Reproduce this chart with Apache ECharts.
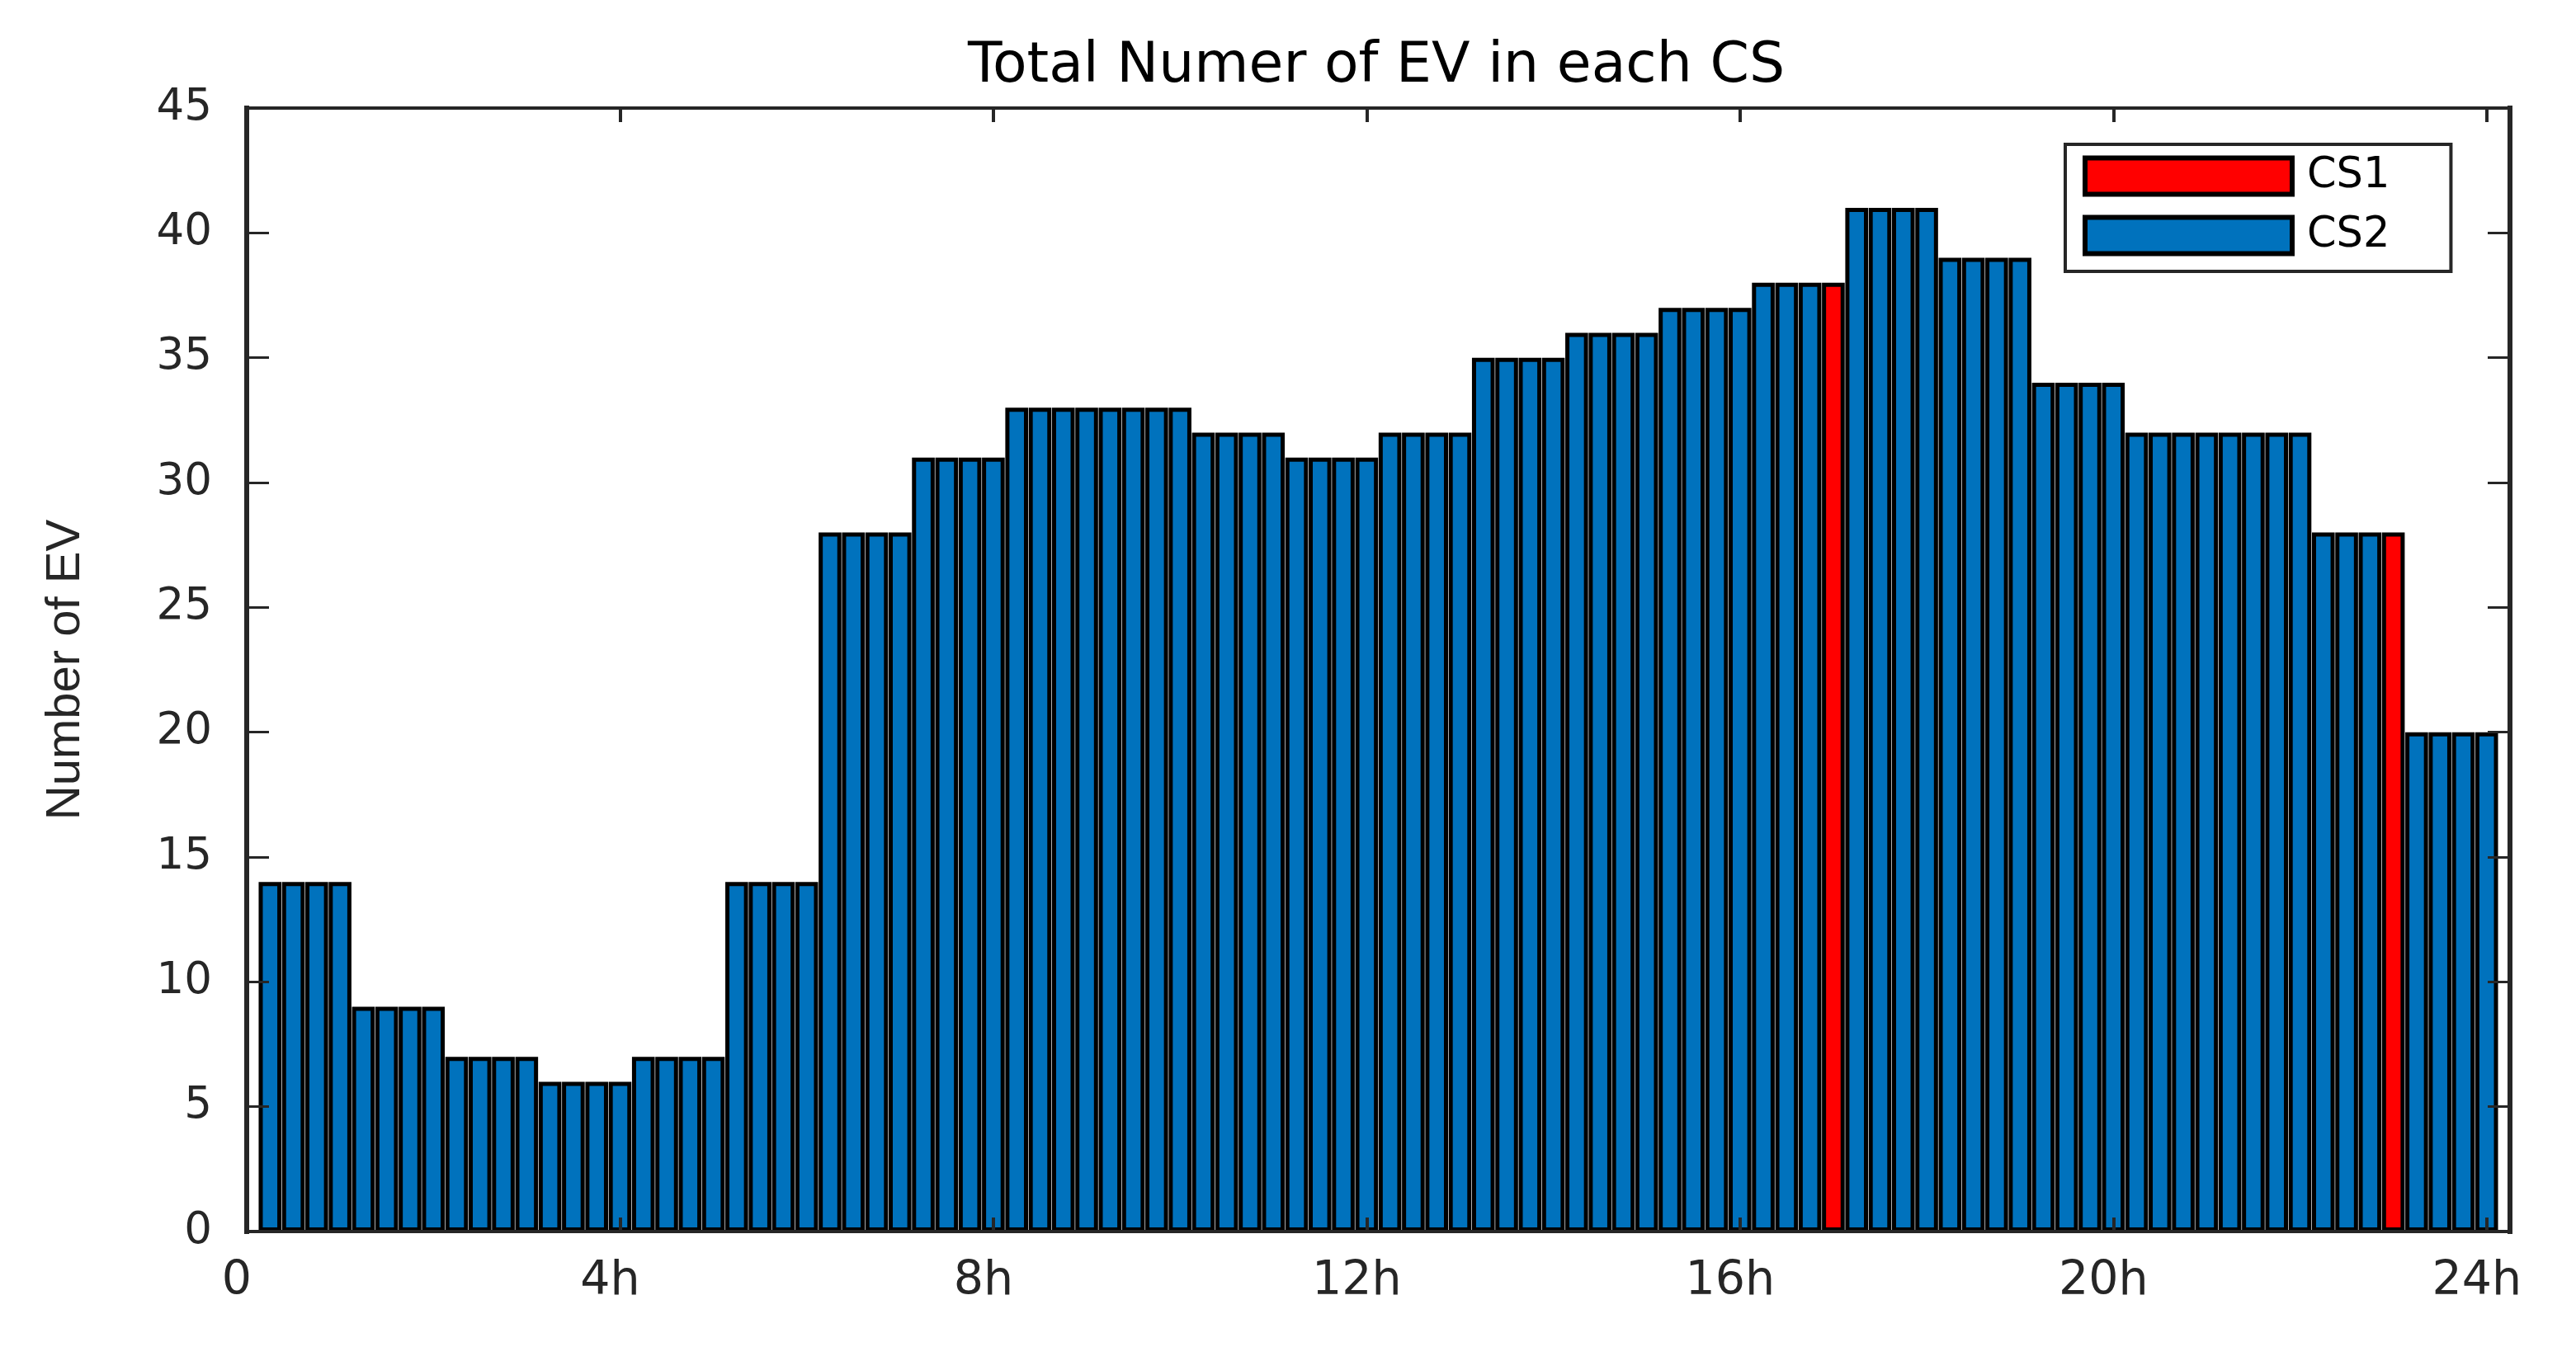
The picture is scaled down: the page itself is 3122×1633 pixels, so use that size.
<!DOCTYPE html>
<html>
<head>
<meta charset="utf-8">
<script src="https://cdn.jsdelivr.net/npm/echarts@6/dist/echarts.min.js"></script>
<style>
html,body{margin:0;padding:0;background:#fff;}
#chart{width:3122px;height:1633px;}
</style>
</head>
<body>
<div id="chart"></div>
<script>
// ---------- data ----------
const titleText = 'Total Numer of EV in each CS';
const yAxisName = 'Number of EV';
const seriesNames = ['CS1', 'CS2'];
const xTickLabels = ['0', '4h', '8h', '12h', '16h', '20h', '24h'];
const xTickStepHours = 4;
const slotsPerHour = 4;      // one bar per quarter hour, slot 1 .. 96
const yMin = 0, yMax = 45, yStep = 5;

// CS1 (red) per quarter-hour slot, 4 slots per row = 1 hour
const cs1 = [
  null, null, null, null,
  null, null, null, null,
  null, null, null, null,
  null, null, null, null,
  null, null, null, null,
  null, null, null, null,
  null, null, null, null,
  null, null, null, null,
  null, null, null, null,
  null, null, null, null,
  null, null, null, null,
  null, null, null, null,
  null, null, null, null,
  null, null, null, null,
  null, null, null, null,
  null, null, null, null,
  null, null, null, 38,
  null, null, null, null,
  null, null, null, null,
  null, null, null, null,
  null, null, null, null,
  null, null, null, null,
  null, null, null, 28,
  null, null, null, null
];

// CS2 (blue) per quarter-hour slot, 4 slots per row = 1 hour
const cs2 = [
  14, 14, 14, 14,
   9,  9,  9,  9,
   7,  7,  7,  7,
   6,  6,  6,  6,
   7,  7,  7,  7,
  14, 14, 14, 14,
  28, 28, 28, 28,
  31, 31, 31, 31,
  33, 33, 33, 33,
  33, 33, 33, 33,
  32, 32, 32, 32,
  31, 31, 31, 31,
  32, 32, 32, 32,
  35, 35, 35, 35,
  36, 36, 36, 36,
  37, 37, 37, 37,
  38, 38, 38, null,
  41, 41, 41, 41,
  39, 39, 39, 39,
  34, 34, 34, 34,
  32, 32, 32, 32,
  32, 32, 32, 32,
  28, 28, 28, null,
  20, 20, 20, 20
];

// ---------- chart ----------
const font = 'DejaVu Sans';
const axisColor = '#262626';
const xMax = (cs2.length + 1) / slotsPerHour;

const toPairs = arr => arr.map((v, i) => [(i + 1) / slotsPerHour, v === null ? '-' : v]);
const xLabel = v => {
  const k = Math.round(v / xTickStepHours);
  return Math.abs(k * xTickStepHours - v) < 1e-6 && xTickLabels[k] !== undefined ? xTickLabels[k] : '';
};

const xAxisBase = {
  type: 'value', min: 0, max: xMax, interval: xTickStepHours,
  axisLine: { show: true, onZero: false, lineStyle: { color: axisColor, width: 4, cap: 'square' } },
  axisTick: { show: true, inside: true, length: 17, lineStyle: { color: axisColor, width: 4 } },
  splitLine: { show: false },
  z: 10
};
const yAxisBase = {
  type: 'value', min: yMin, max: yMax, interval: yStep,
  axisLine: { show: true, onZero: false, lineStyle: { color: axisColor, width: 6, cap: 'square' } },
  axisTick: { show: true, inside: true, length: 27, lineStyle: { color: axisColor, width: 3 } },
  splitLine: { show: false },
  z: 10
};

const option = {
  backgroundColor: '#ffffff',
  animation: false,
  title: {
    text: titleText, left: 1668, top: 47, textAlign: 'center', padding: 0,
    textStyle: { fontFamily: font, fontSize: 68, fontWeight: 'normal', color: '#000', lineHeight: 68 }
  },
  legend: {
    data: seriesNames, orient: 'vertical', left: 2503, top: 175,
    padding: [13, 74, 18, 21], itemGap: 21, itemWidth: 251, itemHeight: 44,
    backgroundColor: '#ffffff', borderColor: axisColor, borderWidth: 4, borderRadius: 0,
    icon: 'rect', selectedMode: false,
    itemStyle: { borderColor: '#000', borderWidth: 6 },
    textStyle: { fontFamily: font, fontSize: 51, color: '#000', lineHeight: 44, padding: [0, 0, 0, 13] }
  },
  grid: { left: 299, right: 80, top: 131, bottom: 140 },
  xAxis: [
    Object.assign({}, xAxisBase, {
      position: 'bottom',
      axisLabel: { formatter: xLabel, margin: 33, fontFamily: font, fontSize: 57, color: axisColor, padding: [0, 24, 0, 0] }
    }),
    Object.assign({}, xAxisBase, { position: 'top', axisLabel: { show: false } })
  ],
  yAxis: [
    Object.assign({}, yAxisBase, {
      position: 'left',
      name: yAxisName, nameLocation: 'middle', nameGap: 190, nameRotate: 90,
      nameTextStyle: { fontFamily: 'Liberation Sans', fontSize: 58, color: axisColor },
      axisLabel: { margin: 42, fontFamily: font, fontSize: 53, color: axisColor }
    }),
    Object.assign({}, yAxisBase, { position: 'right', axisLabel: { show: false } })
  ],
  series: [
    {
      name: seriesNames[0], type: 'bar', stack: 'ev', xAxisIndex: 0, yAxisIndex: 0,
      barWidth: 27.6, data: toPairs(cs1),
      itemStyle: { color: '#FF0000', borderColor: '#000000', borderWidth: 5 }
    },
    {
      name: seriesNames[1], type: 'bar', stack: 'ev', xAxisIndex: 0, yAxisIndex: 0,
      barWidth: 27.6, data: toPairs(cs2),
      itemStyle: { color: '#0072BD', borderColor: '#000000', borderWidth: 5 }
    }
  ]
};

const chart = echarts.init(document.getElementById('chart'), null, { renderer: 'canvas' });
chart.setOption(option);
</script>
</body>
</html>
